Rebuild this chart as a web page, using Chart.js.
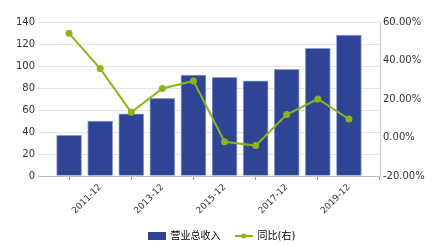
<!DOCTYPE html>
<html>
<head>
<meta charset="utf-8">
<script src="https://cdn.jsdelivr.net/npm/chart.js@4.4.1/dist/chart.umd.min.js"></script>
<style>
  html, body { margin: 0; padding: 0; background: #fff; }
  #wrap { width: 443px; height: 251px; }
</style>
</head>
<body>
<div id="wrap"><canvas id="grafico"></canvas></div>
<script>
// datos
const categorias = ['2010-12', '2011-12', '2012-12', '2013-12', '2014-12', '2015-12', '2016-12', '2017-12', '2018-12', '2019-12'];
const ingresos = [37, 50, 56.6, 70.6, 91.8, 89.7, 86.6, 97, 116, 128.2];
const yoy = [54.1, 35.8, 13.1, 25.5, 29.4, -2.2, -4.2, 11.9, 20, 9.6];
const ticksIzq = [0, 20, 40, 60, 80, 100, 120, 140];
const ticksDer = [-20, 0, 20, 40, 60];
const ticksX = [1, 3, 5, 7, 9];

const AZUL = '#2e4595';
const VERDE = '#8db31b';
const fuente = "'DejaVu Sans', 'Noto Sans CJK SC', sans-serif";

function iconoBarra() {
  const c = document.createElement('canvas');
  c.width = 18; c.height = 8;
  const g = c.getContext('2d');
  g.fillStyle = AZUL;
  g.fillRect(0, 0, 18, 8);
  return c;
}

function iconoLinea() {
  const c = document.createElement('canvas');
  c.width = 18; c.height = 8;
  const g = c.getContext('2d');
  g.strokeStyle = VERDE;
  g.lineWidth = 2;
  g.beginPath(); g.moveTo(0, 4); g.lineTo(18, 4); g.stroke();
  g.fillStyle = VERDE;
  g.beginPath(); g.arc(9, 4, 2.5, 0, Math.PI * 2); g.fill();
  return c;
}

const ctx = document.getElementById('grafico');
new Chart(ctx, {
  data: {
    datasets: [{
      type: 'bar',
      label: '营业总收入',
      data: ingresos.map((v, i) => ({ x: i, y: v })),
      backgroundColor: AZUL,
      borderColor: '#8e9dd2',
      borderWidth: 1,
      barThickness: 25,
      yAxisID: 'y',
      order: 1
    }, {
      type: 'line',
      label: '同比(右)',
      data: yoy.map((v, i) => ({ x: i, y: v })),
      borderColor: VERDE,
      backgroundColor: VERDE,
      borderWidth: 2,
      pointRadius: 3.5,
      pointBackgroundColor: VERDE,
      pointBorderWidth: 0,
      tension: 0,
      yAxisID: 'y1',
      order: 0
    }]
  },
  options: {
    responsive: true,
    maintainAspectRatio: false,
    animation: false,
    layout: { padding: { top: 22, left: 0, right: 0, bottom: 0 } },
    plugins: {
      tooltip: { enabled: false },
      legend: {
        position: 'bottom',
        labels: {
          usePointStyle: true,
          pointStyleWidth: 18,
          boxHeight: 8,
          padding: 14,
          color: '#333',
          font: { family: fuente, size: 10 },
          generateLabels: () => [
            { text: '营业总收入', pointStyle: iconoBarra(), datasetIndex: 0, fillStyle: AZUL, strokeStyle: AZUL, lineWidth: 0 },
            { text: '同比(右)', pointStyle: iconoLinea(), datasetIndex: 1, fillStyle: VERDE, strokeStyle: VERDE, lineWidth: 0 }
          ]
        }
      }
    },
    scales: {
      x: {
        type: 'linear',
        min: -1,
        max: 10,
        offset: false,
        afterBuildTicks: (s) => { s.ticks = ticksX.map(v => ({ value: v })); },
        afterFit: (s) => { s.height = 41; },
        ticks: {
          minRotation: 45,
          maxRotation: 45,
          autoSkip: false,
          padding: 2,
          color: '#333',
          font: { family: fuente, size: 9 },
          callback: (v) => categorias[v]
        },
        grid: { drawOnChartArea: false, drawTicks: true, tickLength: 4, color: '#999' },
        border: { color: '#bbb' }
      },
      y: {
        position: 'left',
        min: 0,
        max: 140,
        afterBuildTicks: (s) => { s.ticks = ticksIzq.map(v => ({ value: v })); },
        afterFit: (s) => { s.width = 38; },
        ticks: { padding: 3, color: '#333', font: { family: fuente, size: 10 } },
        grid: { color: '#e3e3e3', drawTicks: false },
        border: { display: false }
      },
      y1: {
        position: 'right',
        min: -20,
        max: 60,
        afterBuildTicks: (s) => { s.ticks = ticksDer.map(v => ({ value: v })); },
        afterFit: (s) => { s.width = 63; },
        ticks: {
          padding: 3,
          color: '#333',
          font: { family: fuente, size: 10 },
          callback: (v) => v.toFixed(2) + '%'
        },
        grid: { drawOnChartArea: false, drawTicks: false },
        border: { color: '#ccc' }
      }
    }
  }
});
</script>
</body>
</html>
